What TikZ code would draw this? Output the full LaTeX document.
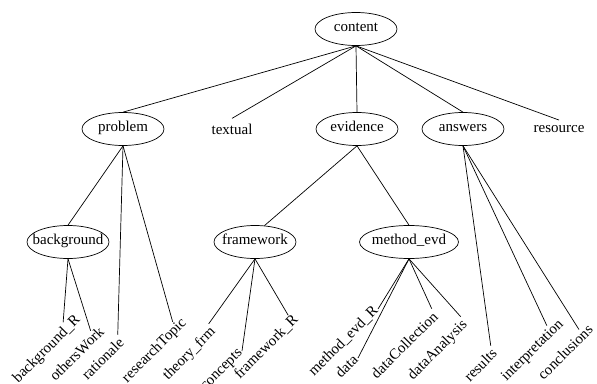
\documentclass[tikz,border=0pt]{standalone}
\usepackage{fontspec}
\setmainfont{Liberation Serif}
\usetikzlibrary{shapes,calc}

\begin{document}
\begin{tikzpicture}[x=1pt,y=-1pt,font=\rmfamily\fontsize{15}{18}\selectfont,
                    line width=0.7pt]
  \tikzstyle{concept}=[ellipse,draw,inner xsep=-8pt,inner ysep=0pt,
                       minimum width=82pt,minimum height=33pt,
                       text height=0.7em,text depth=0.2em]
  \tikzstyle{plain}=[inner xsep=1pt,inner ysep=5pt]
  \tikzstyle{leaf}=[rotate=45,anchor=east,inner xsep=1pt,inner ysep=4pt,
                    text height=0.7em,text depth=0.2em]
  \useasboundingbox (0,0) rectangle (597,383);

  % top levels
  \node[concept] (content)    at (356,29)  {content};
  \node[concept] (problem)    at (123,129) {problem};
  \node[plain]   (textual)    at (232,129) {textual};
  \node[concept] (evidence)   at (357,129) {evidence};
  \node[concept] (answers)    at (463,129) {answers};
  \node[plain]   (resource)   at (559,129) {resource};
  \node[concept] (background) at (68,242)  {background};
  \node[concept] (framework)  at (255,242) {framework};
  \node[concept,minimum width=99pt] (method_evd) at (409,242) {method\_evd};

  % leaves (placed by the end of their text)
  \node[leaf] (background_R)   at (80,318)  {background\_R};
  \node[leaf] (othersWork)     at (104,330) {othersWork};
  \node[leaf] (rationale)      at (124,341) {rationale};
  \node[leaf] (researchTopic)  at (186,321) {researchTopic};
  \node[leaf] (theory_frm)     at (215,330) {theory\_frm};
  \node[leaf] (concepts)       at (242,351) {concepts};
  \node[leaf] (framework_R)    at (298,318) {framework\_R};
  \node[leaf] (method_evd_R)   at (378,309) {method\_evd\_R};
  \node[leaf] (data)           at (358,358) {data};
  \node[leaf] (dataCollection) at (438,315) {dataCollection};
  \node[leaf] (dataAnalysis)   at (467,323) {dataAnalysis};
  \node[leaf] (results)        at (497,352) {results};
  \node[leaf] (interpretation) at (563,322) {interpretation};
  \node[leaf] (conclusions)    at (593,328) {conclusions};

  \path (content.south) edge (problem.north)
                        edge (textual.north)
                        edge (evidence.north)
                        edge (answers.north)
                        edge (resource.north)
        (problem.south) edge (background.north)
                        edge (rationale.north east)
                        edge ($(researchTopic.north east)!10pt!(researchTopic.north west)$)
        (evidence.south) edge (framework.60)
                         edge (method_evd.north)
        (answers.south) edge (results.north east)
                        edge ($(interpretation.north east)!14pt!(interpretation.north west)$)
                        edge ($(conclusions.north east)!11pt!(conclusions.north west)$)
        (background.south) edge ($(background_R.north east)!15pt!(background_R.north west)$)
                           edge ($(othersWork.north east)!10pt!(othersWork.north west)$)
        (framework.south) edge (theory_frm.north east)
                          edge (concepts.east)
                          edge ($(framework_R.north east)!5pt!(framework_R.north west)$)
        (method_evd.south) edge (method_evd_R.east)
                           edge (data.east)
                           edge (dataCollection.north east)
                           edge (dataAnalysis.north east);
\end{tikzpicture}
\end{document}
